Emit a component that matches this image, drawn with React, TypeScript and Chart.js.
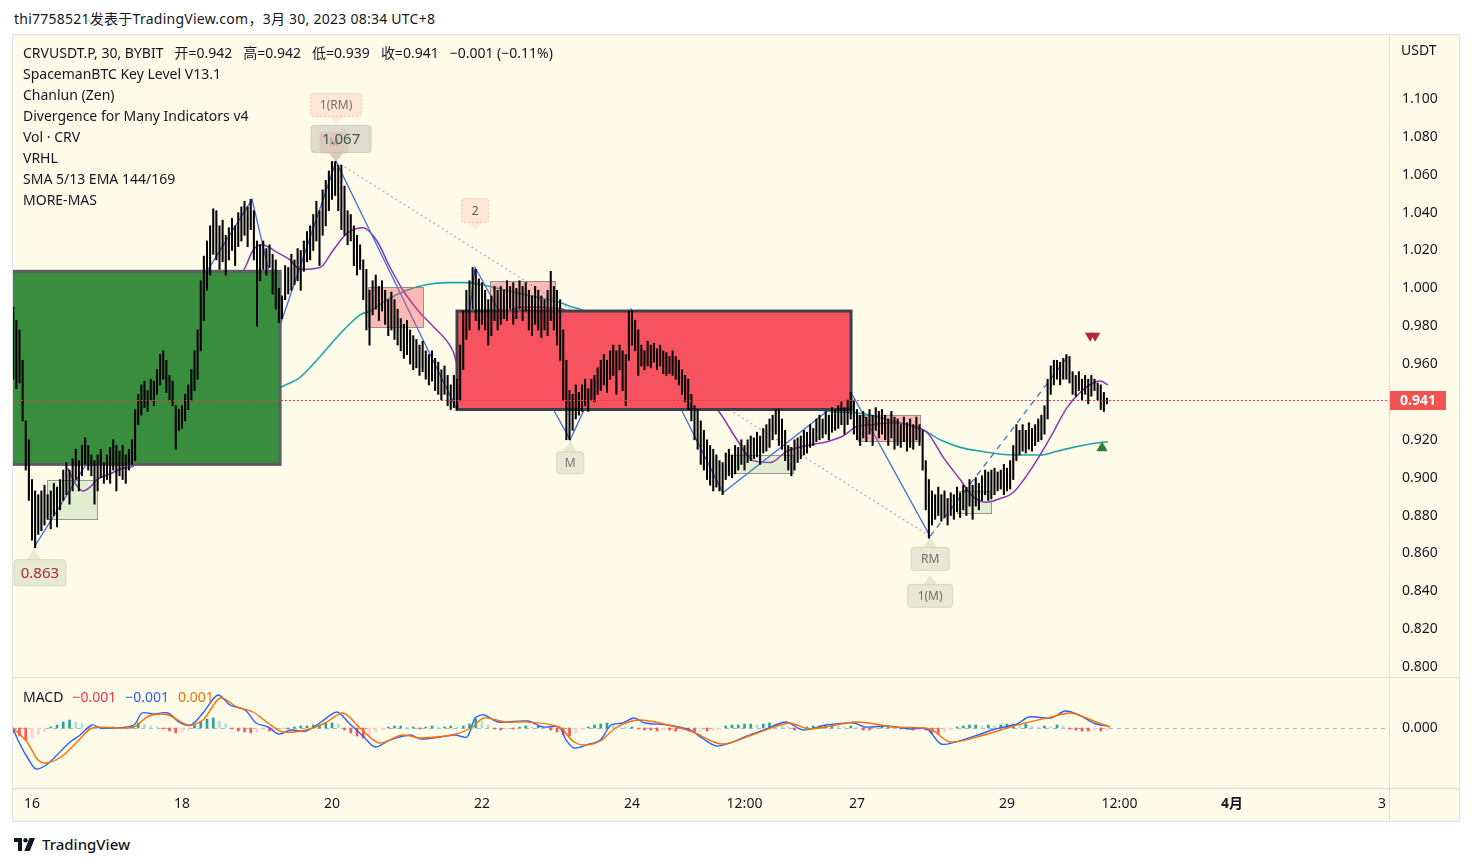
import React, { useEffect, useRef } from "react";
import { Chart, registerables } from "chart.js";
Chart.register(...registerables);

const FONT = "'Noto Sans', 'Noto Sans CJK SC', sans-serif";

// ---------- price data: hourly bars (thousandths), first bar at hour -6 (Mar 15 18:00) ----------
const START_HOUR = -6;
const highs = [
  990, 983, 978, 962, 930, 920, 899, 893, 891, 893, 896, 891, 893, 897, 895, 899, 904, 908, 904, 910,
  915, 909, 917, 921, 917, 912, 909, 912, 915, 908, 912, 916, 920, 917, 914, 917, 912, 915, 920, 936,
  944, 949, 951, 946, 952, 951, 957, 965, 967, 962, 954, 951, 938, 936, 938, 944, 949, 957, 967, 978,
  1004, 1017, 1025, 1033, 1042, 1041, 1033, 1036, 1028, 1032, 1037, 1033, 1040, 1043, 1046, 1043, 1047, 1041, 1025, 1023,
  1025, 1021, 1023, 1018, 1015, 1000, 996, 1012, 1011, 1018, 1015, 1021, 1020, 1025, 1030, 1033, 1039, 1046, 1041, 1052,
  1057, 1062, 1067, 1067, 1065, 1065, 1054, 1041, 1039, 1033, 1028, 1023, 1015, 1010, 999, 1004, 1007, 1001, 1004, 999,
  994, 998, 994, 989, 984, 981, 983, 978, 975, 973, 970, 972, 967, 965, 967, 963, 961, 957, 959, 954,
  949, 954, 952, 970, 988, 999, 1004, 1011, 1010, 1005, 1003, 999, 994, 996, 1001, 999, 1001, 999, 1004, 1001,
  1003, 1000, 1004, 1001, 1003, 999, 996, 1001, 999, 996, 994, 999, 1009, 1001, 999, 994, 978, 962, 946, 944,
  949, 945, 949, 952, 947, 952, 954, 958, 962, 965, 962, 967, 970, 967, 970, 967, 965, 988, 988, 983,
  978, 970, 967, 972, 970, 971, 968, 970, 967, 966, 964, 967, 964, 962, 957, 954, 952, 944, 938, 936,
  930, 925, 920, 917, 915, 912, 909, 908, 913, 915, 912, 917, 916, 920, 917, 920, 922, 921, 924, 922,
  926, 928, 931, 933, 936, 936, 931, 925, 917, 916, 920, 921, 922, 925, 924, 928, 926, 931, 933, 931,
  935, 933, 937, 936, 938, 940, 937, 941, 945, 941, 936, 933, 935, 932, 936, 933, 937, 935, 936, 933,
  931, 935, 932, 931, 928, 932, 929, 931, 928, 932, 928, 925, 909, 899, 893, 891, 895, 891, 893, 889,
  892, 891, 895, 892, 896, 895, 899, 896, 900, 897, 901, 904, 903, 904, 905, 903, 904, 907, 905, 909,
  917, 928, 925, 928, 925, 929, 926, 928, 931, 933, 938, 952, 959, 962, 962, 961, 963, 965, 964, 956,
  954, 956, 952, 954, 952, 954, 952, 950, 949, 945, 942,
];
const lows = [
  952, 947, 950, 930, 904, 888, 867, 863, 870, 872, 875, 878, 873, 880, 874, 883, 888, 891, 886, 893,
  899, 893, 901, 907, 904, 901, 886, 893, 900, 897, 899, 897, 904, 893, 901, 899, 897, 904, 907, 909,
  928, 933, 937, 935, 941, 938, 944, 949, 952, 945, 941, 938, 915, 925, 926, 930, 936, 941, 946, 952,
  967, 983, 999, 1007, 1018, 1015, 1010, 1014, 1007, 1015, 1020, 1012, 1022, 1025, 1028, 1022, 1031, 1015, 980, 1004,
  1010, 1007, 1011, 997, 989, 982, 984, 994, 997, 999, 1002, 1004, 999, 1009, 1014, 1015, 1020, 1025, 1012, 1028,
  1033, 1041, 1047, 1049, 1041, 1031, 1028, 1023, 1025, 1012, 1007, 1010, 994, 978, 970, 986, 989, 983, 988, 981,
  975, 978, 973, 970, 967, 963, 965, 960, 957, 958, 954, 956, 952, 949, 951, 946, 944, 941, 944, 938,
  936, 937, 936, 941, 957, 973, 978, 989, 983, 978, 981, 978, 970, 975, 983, 978, 981, 984, 983, 989,
  981, 984, 989, 983, 988, 978, 975, 981, 978, 974, 978, 975, 983, 978, 970, 962, 941, 920, 920, 925,
  931, 933, 935, 938, 935, 941, 940, 944, 946, 949, 945, 952, 954, 944, 957, 946, 938, 962, 970, 967,
  954, 959, 957, 959, 958, 961, 957, 959, 955, 954, 955, 954, 952, 949, 944, 940, 936, 930, 920, 915,
  907, 904, 899, 896, 893, 895, 893, 891, 899, 901, 900, 902, 904, 907, 904, 908, 909, 910, 911, 907,
  913, 914, 916, 920, 923, 917, 915, 909, 904, 901, 904, 908, 910, 912, 913, 916, 917, 919, 920, 921,
  923, 920, 924, 925, 926, 928, 923, 928, 931, 923, 920, 917, 921, 919, 923, 917, 925, 921, 923, 920,
  917, 921, 915, 917, 916, 919, 914, 916, 915, 920, 917, 904, 883, 868, 875, 878, 880, 877, 879, 875,
  880, 878, 882, 879, 883, 880, 885, 878, 885, 883, 888, 891, 888, 889, 891, 893, 894, 891, 893, 894,
  899, 909, 912, 914, 913, 915, 914, 917, 919, 920, 923, 931, 944, 949, 952, 949, 952, 952, 950, 944,
  943, 946, 941, 944, 939, 943, 946, 941, 936, 935, 939,
];
const lastClose = 0.941;

// ---------- moving averages (hour, price) ----------
const smaHours = [11.5, 13.8, 16.3, 18.6, 20.8, 25.0, 29.1, 32.3, 44.2, 53.8, 61.8, 68.2, 70.7, 73.6, 78.4, 82.6, 85.8, 92.2, 96.3, 100.8, 105.9, 110.4, 114.6, 118.7, 124.2, 128.3, 134.7, 137, 146.6, 156.2, 162.6, 169.9, 178.6, 188.2, 197.8, 207.4, 213.8, 220.2, 225.6, 230.7, 236.2, 241.6, 248, 254.4, 259.5, 264, 269.1, 275.5, 281.9, 286.4, 291.5, 297, 301.1, 305.6, 309.8, 313.9, 320.3, 325.8, 331.2, 335.4, 339.5, 341.8, 344.3];
const smaValues = [0.905, 0.897, 0.893, 0.895, 0.899, 0.902, 0.905, 0.906, 0.930, 0.962, 0.994, 1.011, 1.020, 1.023, 1.019, 1.015, 1.010, 1.011, 1.020, 1.029, 1.032, 1.025, 1.011, 0.999, 0.987, 0.980, 0.967, 0.956, 0.978, 0.990, 0.990, 0.989, 0.973, 0.957, 0.959, 0.957, 0.946, 0.934, 0.920, 0.909, 0.908, 0.914, 0.917, 0.919, 0.922, 0.927, 0.928, 0.929, 0.927, 0.924, 0.911, 0.899, 0.890, 0.887, 0.889, 0.892, 0.906, 0.921, 0.937, 0.945, 0.950, 0.951, 0.949];
const emaHours = [69.8, 80, 85.8, 92.2, 98.6, 105, 108.2, 113.6, 120, 126.4, 132.8, 139.2, 146.6, 154, 162.6, 168, 173.1, 175.4, 197.8, 220.2, 242.6, 255.4, 265, 275.5, 284.2, 290.6, 297, 303.4, 313.9, 322.6, 328, 333.1, 339.5, 344.3];
const emaValues = [0.938, 0.948, 0.953, 0.964, 0.976, 0.986, 0.988, 0.994, 0.999, 1.002, 1.003, 1.003, 1.001, 0.998, 0.995, 0.993, 0.990, 0.989, 0.967, 0.949, 0.938, 0.935, 0.934, 0.930, 0.926, 0.920, 0.916, 0.914, 0.912, 0.912, 0.914, 0.916, 0.918, 0.919];

// ---------- zigzag (Chanlun strokes) ----------
const zigzagHours = [0.6, 70.4, 79.7, 97.3, 136, 141.8, 172.2, 191.7, 221.1, 262.1, 287.4];
const zigzagValues = [0.863, 1.047, 0.982, 1.067, 0.936, 1.011, 0.920, 0.989, 0.892, 0.945, 0.869];
const pendingHours = [287.4, 331.5];
const pendingValues = [0.869, 0.964];
const divergenceHours = [97.3, 287.4];
const divergenceValues = [1.067, 0.869];

// ---------- key level zones ----------
const zoneStart = [-7, 136];
const zoneEnd = [79.4, 262.1];
const zoneTop = [1.009, 0.988];
const zoneBottom = [0.907, 0.936];
const sellBoxStart = [107.5, 146.6, 264.3];
const sellBoxEnd = [125.1, 167.4, 284];
const sellBoxTop = [1.0007, 1.004, 0.933];
const sellBoxBottom = [0.9796, 0.985, 0.9196];
const buyBoxStart = [4.8, 223, 296];
const buyBoxEnd = [20.8, 243.5, 306.9];
const buyBoxTop = [0.8988, 0.912, 0.893];
const buyBoxBottom = [0.878, 0.9025, 0.8813];

// ---------- signals ----------
const sellSignalHours = [338.6, 340.2];
const sellSignalValues = [0.975, 0.975];
const buySignalHours = [342.4];
const buySignalValues = [0.9157];

// ---------- callout labels ----------
const calloutTexts = ["0.863", "1(RM)", "M", "1.067", "2", "M", "RM", "1(M)"];
const calloutHours = [0.6, 97.3, 97.3, 97.3, 141.8, 172.2, 287.4, 287.4];
const calloutValues = [0.863, 1.067, 1.067, 1.067, 1.011, 0.920, 0.869, 0.869];

// ---------- MACD (units of 0.0001) ----------
const macdHours = [-6.1, -4.2, -1, 1.3, 4.5, 8, 11.8, 15.4, 19.2, 21.8, 26.6, 32.6, 35.2, 38.7, 43.5, 47.4, 50.9, 54.7, 59.5, 63.4, 68.2, 71.7, 75.5, 79, 82.9, 87.7, 92.5, 97.6, 101.1, 106.2, 109.8, 114.6, 121, 124.5, 130.6, 135.4, 139.2, 141.8, 144.6, 149.1, 158.7, 163.5, 168.6, 170.9, 173.4, 177.3, 181.8, 185.3, 189.1, 192.6, 196.2, 203.5, 210.6, 214.4, 218.9, 223.4, 228.8, 234.2, 241.3, 246.7, 254.1, 263, 266.6, 273.9, 281, 286.4, 290.9, 295.4, 302.7, 308.2, 315.2, 319, 326.1, 330.6, 335, 340.5, 344.3];
const macdValues = [0, -28, -64, -82, -74, -54, -30, -14, 6, 0, 0, 6, 30, 28, 30, 10, 6, 30, 66, 46, 36, 10, 2, -12, -4, -6, 12, 32, 12, -18, -38, -24, -14, -22, -18, -14, -18, 20, 26, 12, 14, 2, 2, -24, -40, -34, -24, 6, 10, 20, 10, 6, -4, -20, -36, -30, -16, -4, 12, -4, 6, 10, 2, 4, -2, -2, -32, -28, -14, -2, 8, 22, 20, 34, 26, 8, 4];
const signalHours = [-6.1, -1.6, 1.9, 4.5, 9.3, 14.4, 19.2, 26.6, 32.6, 37.4, 43.5, 49.9, 54.7, 60.2, 65.6, 70.7, 75.5, 80.3, 87.7, 93.8, 99.5, 105, 111, 118.4, 124.5, 134.4, 140.5, 144.6, 151.4, 158.7, 168.6, 173.4, 177.3, 181.8, 187.2, 194.2, 203.5, 211.5, 220.5, 230.4, 242.2, 248.6, 264, 275.5, 287.4, 293.8, 304.6, 315.2, 326.1, 332.5, 340.5, 345];
const signalValues = [0, -28, -64, -70, -58, -28, 0, 0, 2, 24, 26, 6, 16, 60, 42, 32, 10, -8, -4, 10, 30, 0, -30, -14, -20, -14, 0, 20, 12, 12, 2, -28, -34, -26, 2, 16, 6, -8, -32, -14, 10, -2, 12, 2, -2, -28, -14, 6, 22, 30, 12, 2];
// histogram, one bar every 2 hours from hour -6
const histValues = [
  -10, -16, -24, -20, -12, -6, 2, 6, 12, 16, 12, 8, 4, 2, 1, 1, 2, 1, 2, 4,
  10, 8, 4, 2, -2, -6, -10, -8, -4, 6, 12, 18, 20, 14, 8, -2, -6, -8, -10, -8,
  -4, -6, -4, -2, -2, 2, 4, 4, 6, 6, 10, 10, 8, -4, -10, -16, -20, -14, -8, -4,
  2, 4, 4, 2, 2, -2, 2, 4, 2, 2, 4, 2, 4, 8, 18, 14, 6, -2, -4, -2,
  -2, 2, 4, 2, 4, 2, -4, -8, -14, -16, -10, -4, 2, 6, 8, 10, 8, 4, 2, 2,
  -2, -4, -4, -6, -4, -4, -6, -4, -6, -8, -6, -6, -4, -2, 4, 6, 6, 8, 8, 6,
  8, 10, 8, 6, 2, -4, -2, 2, 4, 4, 6, 6, 4, 2, 4, 2, -4, -4, -2, 2,
  4, 2, -2, -2, -4, -2, -4, -10, -12, -8, -4, 2, 4, 6, 6, 4, 6, 4, 6, 8,
  8, 6, 8, 4, 2, 4, 2, 6, 4, -2, -4, -6, -6, -4, -6, -4,
];

// ---------- axes ----------
const priceTicks = [0.8, 0.82, 0.84, 0.86, 0.88, 0.9, 0.92, 0.94, 0.96, 0.98, 1.0, 1.02, 1.04, 1.06, 1.08, 1.1];
const timeTickHours = [0, 48, 96, 144, 192, 228, 264, 312, 348, 384, 432];
const timeTickLabels = ["16", "18", "20", "22", "24", "12:00", "27", "29", "12:00", "4月", "3"];

const X_MIN = -6.08;
const X_MAX = 434.24;
const PRICE_MIN = 0.79419;
const PRICE_MAX = 1.1338;

const legendLines = [
  "SpacemanBTC Key Level V13.1",
  "Chanlun (Zen)",
  "Divergence for Many Indicators v4",
  "Vol · CRV",
  "VRHL",
  "SMA 5/13 EMA 144/169",
  "MORE-MAS",
];

// ---------- styles ----------
const LINE_GRAY = "#dddcd2";
const zoneFills = ["#388e3c", "#f7525f"];
const zoneStrokes = ["#5d5e66", "#3e4049"];
const greenish = { fill: "rgba(200,208,180,0.42)", stroke: "rgba(190,195,170,0.55)" };
const pinkish = { fill: "rgba(255,180,165,0.28)", stroke: "rgba(240,160,150,0.6)" };
const calloutStyles = [
  { above: false, gap: 1, ptr: 11, w: 52, h: 26, dx: 6, ...greenish, dash: false, color: "#b22833", size: 15 },
  { above: true, gap: 37, ptr: 8, w: 51, h: 23, dx: 0, ...pinkish, dash: true, color: "#707070", size: 12 },
  { above: true, gap: 0, ptr: 8, w: 29, h: 22, dx: -2, fill: "rgba(246,160,150,0.5)", stroke: "", dash: false, color: "#6a6a6a", size: 10 },
  { above: true, gap: 0, ptr: 9, w: 60, h: 27, dx: 5, fill: "rgba(200,200,186,0.6)", stroke: "rgba(185,185,175,0.6)", dash: false, color: "#3f5a3f", size: 15 },
  { above: true, gap: 38, ptr: 7, w: 27, h: 24, dx: 0, ...pinkish, dash: true, color: "#555555", size: 12 },
  { above: false, gap: 1, ptr: 11, w: 27, h: 22, dx: 0, ...greenish, dash: false, color: "#777777", size: 12 },
  { above: false, gap: 1, ptr: 10, w: 38, h: 23, dx: 0, ...greenish, dash: false, color: "#6f6f6f", size: 12 },
  { above: false, gap: 39, ptr: 9, w: 45, h: 23, dx: 0, ...greenish, dash: false, color: "#6f6f6f", size: 12 },
];

function pts(hs: number[], vs: number[], k = 1) {
  return hs.map((h, i) => ({ x: h, y: vs[i] * k }));
}

function histColors(vals: number[]) {
  return vals.map((v, i) => {
    const p = i > 0 ? vals[i - 1] : 0;
    if (v >= 0) return v >= p ? "#26a69a" : "#b2dfdb";
    return v <= p ? "#ff5252" : "#ffcdd2";
  });
}

function roundRect(ctx: CanvasRenderingContext2D, x: number, y: number, w: number, h: number, r: number) {
  ctx.beginPath();
  ctx.moveTo(x + r, y);
  ctx.lineTo(x + w - r, y);
  ctx.quadraticCurveTo(x + w, y, x + w, y + r);
  ctx.lineTo(x + w, y + h - r);
  ctx.quadraticCurveTo(x + w, y + h, x + w - r, y + h);
  ctx.lineTo(x + r, y + h);
  ctx.quadraticCurveTo(x, y + h, x, y + h - r);
  ctx.lineTo(x, y + r);
  ctx.quadraticCurveTo(x, y, x + r, y);
  ctx.closePath();
}

function drawCallout(ctx: CanvasRenderingContext2D, ax: number, ay: number, text: string, s: any) {
  const tipY = s.above ? ay - s.gap : ay + s.gap;
  const edge = s.above ? tipY - s.ptr : tipY + s.ptr;
  const top = s.above ? edge - s.h : edge;
  const left = ax + s.dx - s.w / 2;
  ctx.save();
  roundRect(ctx, left, top, s.w, s.h, 3);
  ctx.fillStyle = s.fill;
  ctx.fill();
  if (s.stroke) {
    ctx.strokeStyle = s.stroke;
    ctx.lineWidth = 1;
    ctx.setLineDash(s.dash ? [2, 2] : []);
    ctx.stroke();
  }
  ctx.setLineDash([]);
  ctx.beginPath();
  ctx.moveTo(ax - 7, edge);
  ctx.lineTo(ax, tipY);
  ctx.lineTo(ax + 7, edge);
  ctx.closePath();
  ctx.fillStyle = s.fill;
  ctx.fill();
  ctx.fillStyle = s.color;
  ctx.font = `${s.size}px ${FONT}`;
  ctx.textAlign = "center";
  ctx.textBaseline = "middle";
  ctx.fillText(text, left + s.w / 2, top + s.h / 2 + 1);
  ctx.restore();
}

const overlayPlugin = {
  id: "tvOverlay",
  beforeDatasetsDraw(chart: any) {
    const { ctx } = chart;
    const x = chart.scales.x;
    const yM = chart.scales.yM;
    const z = yM.getPixelForValue(0);
    ctx.save();
    ctx.strokeStyle = "#b2b5be";
    ctx.lineWidth = 1;
    ctx.setLineDash([4, 4]);
    ctx.beginPath();
    ctx.moveTo(x.left, Math.round(z) + 0.5);
    ctx.lineTo(x.right, Math.round(z) + 0.5);
    ctx.stroke();
    ctx.restore();
  },
  beforeDatasetDraw(chart: any, args: any) {
    const ds = chart.data.datasets[args.index];
    if (ds.label !== "candles") return;
    const { ctx } = chart;
    const x = chart.scales.x;
    const y = chart.scales.y;
    ctx.save();
    ctx.beginPath();
    ctx.rect(x.left, y.top, x.right - x.left, y.bottom - y.top);
    ctx.clip();
    for (let i = 0; i < zoneStart.length; i++) {
      const x0 = x.getPixelForValue(zoneStart[i]);
      const x1 = x.getPixelForValue(zoneEnd[i]);
      const y0 = y.getPixelForValue(zoneTop[i]);
      const y1 = y.getPixelForValue(zoneBottom[i]);
      ctx.fillStyle = zoneFills[i];
      ctx.fillRect(x0, y0, x1 - x0, y1 - y0);
      ctx.lineWidth = 3;
      ctx.strokeStyle = zoneStrokes[i];
      ctx.strokeRect(x0, y0, x1 - x0, y1 - y0);
    }
    const boxes = (s: number[], e: number[], t: number[], b: number[], fill: string) => {
      for (let i = 0; i < s.length; i++) {
        const x0 = Math.round(x.getPixelForValue(s[i])) + 0.5;
        const x1 = Math.round(x.getPixelForValue(e[i])) + 0.5;
        const y0 = Math.round(y.getPixelForValue(t[i])) + 0.5;
        const y1 = Math.round(y.getPixelForValue(b[i])) + 0.5;
        ctx.fillStyle = fill;
        ctx.fillRect(x0, y0, x1 - x0, y1 - y0);
        ctx.lineWidth = 1;
        ctx.strokeStyle = "rgba(120,120,120,0.75)";
        ctx.strokeRect(x0, y0, x1 - x0, y1 - y0);
      }
    };
    boxes(sellBoxStart, sellBoxEnd, sellBoxTop, sellBoxBottom, "rgba(247,82,95,0.38)");
    boxes(buyBoxStart, buyBoxEnd, buyBoxTop, buyBoxBottom, "rgba(76,160,80,0.16)");
    ctx.restore();
  },
  afterDatasetsDraw(chart: any) {
    const { ctx } = chart;
    const x = chart.scales.x;
    const y = chart.scales.y;
    const py = Math.round(y.getPixelForValue(lastClose)) + 0.5;
    ctx.save();
    ctx.strokeStyle = "#f23645";
    ctx.lineWidth = 1;
    ctx.setLineDash([2, 2]);
    ctx.beginPath();
    ctx.moveTo(x.left, py);
    ctx.lineTo(x.right, py);
    ctx.stroke();
    ctx.setLineDash([]);
    ctx.beginPath();
    ctx.rect(x.left, y.top, x.right - x.left, y.bottom - y.top);
    ctx.clip();
    for (let i = 0; i < calloutTexts.length; i++) {
      drawCallout(ctx, x.getPixelForValue(calloutHours[i]), y.getPixelForValue(calloutValues[i]), calloutTexts[i], calloutStyles[i]);
    }
    ctx.restore();
  },
  afterDraw(chart: any) {
    const { ctx, width, height } = chart;
    const x = chart.scales.x;
    const y = chart.scales.y;
    ctx.save();
    ctx.strokeStyle = LINE_GRAY;
    ctx.lineWidth = 1;
    ctx.beginPath();
    const sep = Math.round(y.bottom) - 0.5;
    ctx.moveTo(0, sep);
    ctx.lineTo(width, sep);
    const bot = Math.round(x.top) + 0.5;
    ctx.moveTo(0, bot);
    ctx.lineTo(width, bot);
    const vx = Math.round(y.left) + 0.5;
    ctx.moveTo(vx, 0);
    ctx.lineTo(vx, height);
    ctx.stroke();
    // last price tag
    const py = y.getPixelForValue(lastClose);
    ctx.fillStyle = "#f05350";
    ctx.fillRect(y.left + 1, Math.round(py) - 9, 56, 19);
    ctx.fillStyle = "#ffffff";
    ctx.font = `bold 14px ${FONT}`;
    ctx.textAlign = "center";
    ctx.textBaseline = "middle";
    ctx.fillText(lastClose.toFixed(3), y.left + 29, Math.round(py) + 1);
    ctx.restore();
  },
};

function noPad(s: any) {
  s.paddingTop = 0;
  s.paddingBottom = 0;
  s.paddingLeft = 0;
  s.paddingRight = 0;
}

export default function App() {
  const ref = useRef<HTMLCanvasElement | null>(null);
  useEffect(() => {
    const candleData = highs.map((hi, i) => ({ x: START_HOUR + i, y: [lows[i] / 1000, hi / 1000] }));
    const histData = histValues.map((v, k) => ({ x: START_HOUR + 2 * k, y: v / 10000 }));
    const chart = new Chart(ref.current as HTMLCanvasElement, {
      type: "line",
      data: {
        datasets: [
          { type: "line", label: "ema", data: pts(emaHours, emaValues), borderColor: "#22a3aa", borderWidth: 1.6, pointRadius: 0, tension: 0.4, cubicInterpolationMode: "monotone", yAxisID: "y", order: 10 },
          { type: "line", label: "sma", data: pts(smaHours, smaValues), borderColor: "#8a35b5", borderWidth: 1.5, pointRadius: 0, tension: 0.4, cubicInterpolationMode: "monotone", yAxisID: "y", order: 9 },
          { type: "line", label: "div", data: pts(divergenceHours, divergenceValues), borderColor: "rgba(170,150,215,0.9)", borderWidth: 1.2, borderDash: [2, 3], pointRadius: 0, yAxisID: "y", order: 8 },
          { type: "line", label: "zigzag", data: pts(zigzagHours, zigzagValues), borderColor: "#3f6fe0", borderWidth: 1.3, pointRadius: 0, tension: 0, yAxisID: "y", order: 7 },
          { type: "line", label: "pending", data: pts(pendingHours, pendingValues), borderColor: "#3f6fe0", borderWidth: 1.3, borderDash: [6, 5], pointRadius: 0, yAxisID: "y", order: 6 },
          { type: "bar", label: "hist", data: histData, backgroundColor: histColors(histValues), borderWidth: 0, barThickness: 2, grouped: false, yAxisID: "yM", order: 5 },
          { type: "line", label: "macd", data: pts(macdHours, macdValues, 0.0001), borderColor: "#2962ff", borderWidth: 1.4, pointRadius: 0, tension: 0.3, yAxisID: "yM", order: 4 },
          { type: "line", label: "signal", data: pts(signalHours, signalValues, 0.0001), borderColor: "#ff6d00", borderWidth: 1.4, pointRadius: 0, tension: 0.3, yAxisID: "yM", order: 3 },
          { type: "bar", label: "candles", data: candleData, backgroundColor: "#000000", borderWidth: 0, barThickness: 1.4, grouped: false, yAxisID: "y", order: 2 },
          { type: "line", label: "sell", data: pts(sellSignalHours, sellSignalValues), showLine: false, pointStyle: "triangle", rotation: 180, pointRadius: 6, pointBackgroundColor: "#b22833", pointBorderWidth: 0, yAxisID: "y", order: 1 },
          { type: "line", label: "buy", data: pts(buySignalHours, buySignalValues), showLine: false, pointStyle: "triangle", pointRadius: 6.5, pointBackgroundColor: "#2e7d32", pointBorderWidth: 0, yAxisID: "y", order: 1 },
        ],
      } as any,
      options: {
        animation: false,
        responsive: false,
        events: [],
        layout: { padding: 0, autoPadding: false },
        plugins: { legend: { display: false }, tooltip: { enabled: false } },
        scales: {
          x: {
            type: "linear",
            min: X_MIN,
            max: X_MAX,
            offset: false,
            grid: { display: false, drawTicks: false, offset: false },
            border: { display: false },
            afterBuildTicks: (s: any) => {
              s.ticks = timeTickHours.map((v) => ({ value: v }));
            },
            afterFit: (s: any) => {
              s.height = 33;
              noPad(s);
            },
            ticks: {
              autoSkip: false,
              maxRotation: 0,
              padding: 8,
              color: "#131722",
              font: (c: any) => ({ size: 14, family: FONT, weight: c.tick && c.tick.label === "4月" ? "bold" : "normal" }),
              callback: (_v: any, i: number) => timeTickLabels[i],
            },
          },
          y: {
            type: "linear",
            position: "right",
            stack: "panes",
            stackWeight: 643,
            min: PRICE_MIN,
            max: PRICE_MAX,
            grid: { display: false, drawTicks: false },
            border: { display: false },
            afterBuildTicks: (s: any) => {
              s.ticks = priceTicks.map((v) => ({ value: v }));
            },
            afterFit: (s: any) => {
              s.width = 70;
              noPad(s);
            },
            ticks: { padding: 13, color: "#131722", font: { size: 14, family: FONT }, callback: (v: any) => Number(v).toFixed(3) },
          },
          yM: {
            type: "linear",
            position: "right",
            stack: "panes",
            stackWeight: 110,
            min: -0.012,
            max: 0.01,
            grid: { display: false, drawTicks: false },
            border: { display: false },
            afterBuildTicks: (s: any) => {
              s.ticks = [{ value: 0 }];
            },
            afterFit: (s: any) => {
              s.width = 70;
              noPad(s);
            },
            ticks: { padding: 13, color: "#131722", font: { size: 14, family: FONT }, callback: () => "0.000" },
          },
        },
      } as any,
      plugins: [overlayPlugin as any],
    });
    return () => chart.destroy();
  }, []);

  const txt: React.CSSProperties = { position: "absolute", fontFamily: FONT, fontSize: 14, lineHeight: "18px", color: "#131722", whiteSpace: "nowrap" };

  return (
    <div style={{ position: "absolute", left: 0, top: 0, width: 1472, height: 866, background: "#ffffff" }}>
      <div style={{ ...txt, left: 14, top: 10, letterSpacing: 0.25 }}>thi7758521发表于TradingView.com，3月 30, 2023 08:34 UTC+8</div>
      <div
        style={{
          position: "absolute",
          left: 12,
          top: 34,
          width: 1448,
          height: 788,
          boxSizing: "border-box",
          border: "1px solid #e0e3eb",
          background: "#fffbe9",
        }}
      >
        <canvas ref={ref} width={1446} height={786} style={{ display: "block", width: 1446, height: 786 }} />
      </div>
      <div style={{ ...txt, left: 23, top: 44 }}>
        CRVUSDT.P, 30, BYBIT<span style={{ marginLeft: 11 }}>开=0.942</span>
        <span style={{ marginLeft: 11 }}>高=0.942</span>
        <span style={{ marginLeft: 11 }}>低=0.939</span>
        <span style={{ marginLeft: 11 }}>收=0.941</span>
        <span style={{ marginLeft: 11 }}>−0.001 (−0.11%)</span>
      </div>
      {legendLines.map((t, i) => (
        <div key={i} style={{ ...txt, left: 23, top: 65 + 21 * i }}>
          {t}
        </div>
      ))}
      <div style={{ ...txt, left: 1401, top: 41 }}>USDT</div>
      <div style={{ ...txt, left: 23, top: 688 }}>
        MACD<span style={{ marginLeft: 9, color: "#f23645" }}>−0.001</span>
        <span style={{ marginLeft: 9, color: "#2962ff" }}>−0.001</span>
        <span style={{ marginLeft: 9, color: "#ff6d00" }}>0.001</span>
      </div>
      <svg style={{ position: "absolute", left: 14, top: 838 }} width={24} height={13} viewBox="0 0 24 13">
        <path d="M0 0h8v13H4V4H0z" fill="#131722" />
        <circle cx="11.5" cy="2.2" r="2.2" fill="#131722" />
        <path d="M15.5 0h5.5l-5.2 13h-5.5z" fill="#131722" />
      </svg>
      <div style={{ ...txt, left: 42, top: 835, fontSize: 15, fontWeight: 500 }}>TradingView</div>
    </div>
  );
}
